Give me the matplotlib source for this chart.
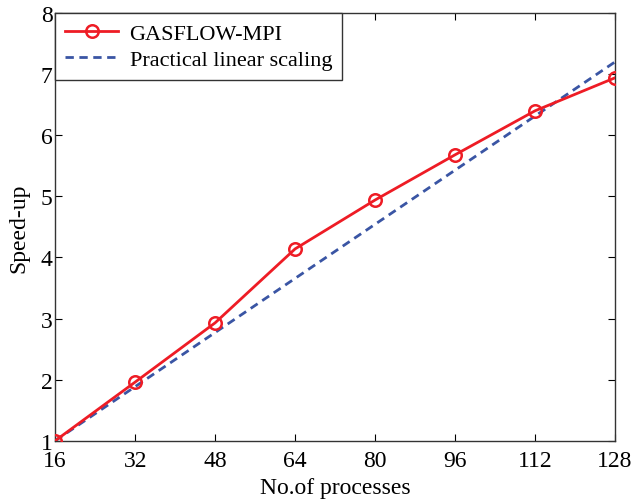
import numpy as np
import matplotlib.pyplot as plt

plt.rcParams['font.family'] = ['Liberation Serif', 'DejaVu Serif']
plt.rcParams['mathtext.fontset'] = 'stix'

# measured speed-up vs number of MPI processes
procs = [16, 32, 48, 64, 80, 96, 112, 128]
speedup = [1.0, 1.96, 2.93, 4.14, 4.94, 5.68, 6.40, 6.94]

# practical linear scaling reference
lin_procs = [16, 128]
lin_speedup = [1.0, 7.2]

fig = plt.figure(figsize=(6.34, 5.02), dpi=100)
ax = fig.add_axes([0.087, 0.12, 0.883, 0.852])

ax.plot(procs, speedup, '-o', color='#ee1c25', lw=2, ms=9, mfc='none', mew=1.8,
        label='GASFLOW-MPI', zorder=3)
ax.plot(lin_procs, lin_speedup, '--', color='#3a55a4', lw=2, dashes=(3, 2),
        label='Practical linear scaling', zorder=2)

ax.set_xlim(16, 128)
ax.set_ylim(1, 8)
ax.set_xticks(np.arange(16, 129, 16))
ax.set_yticks(np.arange(1, 9, 1))
ax.tick_params(direction='in', top=True, right=True, labelsize=17, length=5)
ax.tick_params(axis='x', pad=7)
ax.tick_params(axis='y', pad=2)
for s in ax.spines.values():
    s.set_linewidth(1.0)
    s.set_color('#333333')

ax.set_xlabel('No.of processes', fontsize=17, labelpad=4)
ax.set_ylabel('Speed-up', fontsize=17, labelpad=8)

leg = ax.legend(loc='upper left', fontsize=16, borderaxespad=0, fancybox=False,
                framealpha=1, edgecolor='#333333', handlelength=2.4,
                borderpad=0.45, labelspacing=0.25, handletextpad=0.5)
leg.get_frame().set_linewidth(1.0)

fig.savefig('out.png', dpi=100)
